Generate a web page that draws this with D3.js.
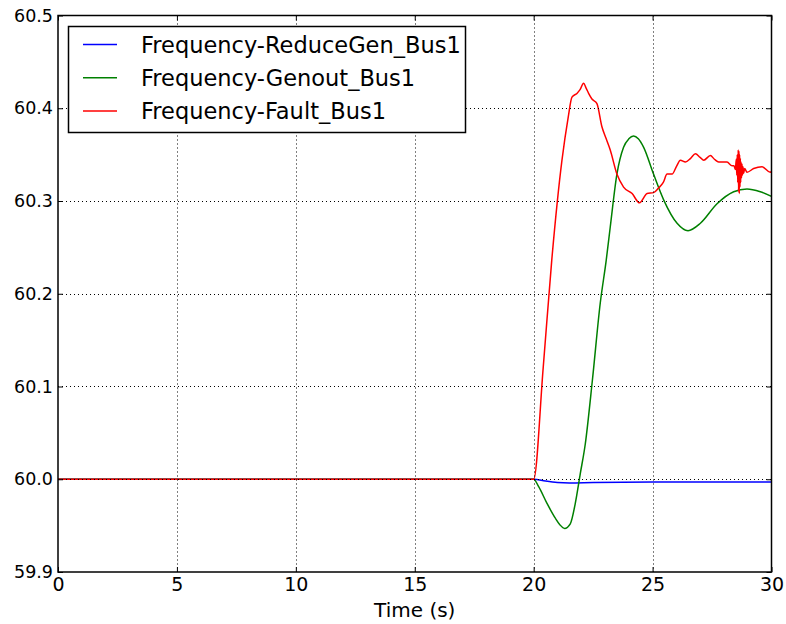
<!DOCTYPE html>
<html>
<head>
<meta charset="utf-8">
<script src="https://cdn.jsdelivr.net/npm/d3@7"></script>
<style>
  body { margin: 0; background: #fff; }
  text { font-family: "DejaVu Sans", sans-serif; fill: #000; }
</style>
</head>
<body>
<div id="chart"></div>
<script>
// series data
var reduceT = [0, 20, 20.5, 21.0, 21.5, 22.5, 25, 30];
var reduceF = [60, 60, 59.998, 59.9965, 59.996, 59.9965, 59.997, 59.997];

var genoutT = [0, 20, 20.21, 20.56, 20.91, 21.1, 21.3, 21.54, 21.75, 21.96, 22.17, 22.47, 22.8, 23.05, 23.22, 23.5, 23.78, 24.0, 24.2, 24.4, 24.62, 25.04, 25.47, 26.03, 26.49, 27.01, 27.71, 28.41, 28.97, 29.53, 30];
var genoutF = [60, 60, 59.992, 59.974, 59.958, 59.951, 59.947, 59.952, 59.974, 60.006, 60.038, 60.107, 60.19, 60.236, 60.272, 60.329, 60.358, 60.367, 60.37, 60.367, 60.358, 60.329, 60.301, 60.276, 60.268, 60.276, 60.297, 60.31, 60.313, 60.31, 60.305];

var faultT = [0, 20, 20.4, 20.76, 21.19, 21.45, 21.61, 21.82, 21.95, 22.1, 22.2, 22.31, 22.45, 22.66, 22.87, 23.05, 23.22, 23.5, 23.78, 24.14, 24.45, 24.77, 25.04, 25.25, 25.45, 25.61, 25.82, 26.0, 26.17, 26.38, 26.6, 26.8, 27.0, 27.15, 27.43, 27.6, 27.78, 28.13, 28.34,
  28.42, 28.48, 28.52, 28.54, 28.56, 28.58, 28.6, 28.615, 28.63, 28.645, 28.66, 28.675, 28.69, 28.705, 28.72, 28.74, 28.76, 28.78, 28.8, 28.83, 28.87,
  28.97, 29.25, 29.6, 29.95, 30];
var faultF = [60, 60, 60.12, 60.236, 60.344, 60.39, 60.412, 60.416, 60.42, 60.427, 60.422, 60.416, 60.41, 60.405, 60.38, 60.367, 60.355, 60.329, 60.315, 60.308, 60.298, 60.308, 60.309, 60.314, 60.32, 60.329, 60.329, 60.337, 60.344, 60.342, 60.346, 60.351, 60.347, 60.344, 60.349, 60.345, 60.342, 60.342, 60.338,
  60.338, 60.334, 60.345, 60.328, 60.35, 60.32, 60.355, 60.31, 60.354, 60.308, 60.35, 60.315, 60.346, 60.32, 60.342, 60.325, 60.34, 60.328, 60.337, 60.33, 60.335,
  60.331, 60.335, 60.337, 60.331, 60.332];

var seriesNames = ["Frequency-ReduceGen_Bus1", "Frequency-Genout_Bus1", "Frequency-Fault_Bus1"];
var seriesColors = ["#0000ff", "#008000", "#ff0000"];
var xTicks = [0, 5, 10, 15, 20, 25, 30];
var yTicks = [59.9, 60.0, 60.1, 60.2, 60.3, 60.4, 60.5];

var width = 786, height = 624;
var plotLeft = 58, plotRight = 771.5, plotTop = 15.5, plotBottom = 572;

var svg = d3.select("#chart")
  .append("svg")
    .attr("width", width)
    .attr("height", height);

var x = d3.scaleLinear().domain([0, 30]).range([plotLeft, plotRight]);
var y = d3.scaleLinear().domain([59.9, 60.5]).range([plotBottom, plotTop]);

var series = [
  { t: reduceT, f: reduceF },
  { t: genoutT, f: genoutF },
  { t: faultT, f: faultF }
];

var line = d3.line()
    .x(function(d) { return x(d[0]); })
    .y(function(d) { return y(d[1]); })
    .curve(d3.curveMonotoneX);

var plot = svg.append("g");

plot.append("clipPath").attr("id", "clip")
  .append("rect")
    .attr("x", plotLeft).attr("y", plotTop)
    .attr("width", plotRight - plotLeft).attr("height", plotBottom - plotTop);

series.forEach(function(s, i) {
	plot.append("path")
	    .datum(d3.zip(s.t, s.f))
	    .attr("clip-path", "url(#clip)")
	    .attr("fill", "none")
	    .attr("stroke", seriesColors[i])
	    .attr("stroke-width", 1.5)
	    .attr("d", line);
});

// grid on top of the lines, dotted
var grid = svg.append("g")
    .attr("stroke", "#000")
    .attr("stroke-width", 1)
    .attr("stroke-dasharray", "1,3");

grid.selectAll(".gx")
  .data(xTicks.slice(1, -1))
  .enter().append("line")
    .attr("x1", function(d) { return Math.round(x(d)) + 0.5; })
    .attr("x2", function(d) { return Math.round(x(d)) + 0.5; })
    .attr("y1", plotTop)
    .attr("y2", plotBottom);

grid.selectAll(".gy")
  .data(yTicks.slice(1, -1))
  .enter().append("line")
    .attr("y1", function(d) { return Math.round(y(d)) + 0.5; })
    .attr("y2", function(d) { return Math.round(y(d)) + 0.5; })
    .attr("x1", plotLeft)
    .attr("x2", plotRight);

// axes with inward ticks
svg.append("g")
    .attr("transform", "translate(0," + plotBottom + ")")
    .call(d3.axisBottom(x).tickValues(xTicks).tickSizeInner(-5).tickSizeOuter(0).tickPadding(6))
    .call(function(g) {
		g.select(".domain").remove();
		g.selectAll("text").attr("font-size", 19).style("font-family", "DejaVu Sans");
    });

svg.append("g")
    .attr("transform", "translate(0," + plotTop + ")")
    .call(d3.axisTop(x).tickValues(xTicks).tickSizeInner(-5).tickSizeOuter(0).tickFormat(""))
    .call(function(g) { g.select(".domain").remove(); });

svg.append("g")
    .attr("transform", "translate(" + plotLeft + ",0)")
    .call(d3.axisLeft(y).tickValues(yTicks).tickSizeInner(-5).tickSizeOuter(0).tickPadding(5).tickFormat(d3.format(".1f")))
    .call(function(g) {
		g.select(".domain").remove();
		g.selectAll("text").attr("font-size", 17.5).style("font-family", "DejaVu Sans");
    });

svg.append("g")
    .attr("transform", "translate(" + plotRight + ",0)")
    .call(d3.axisRight(y).tickValues(yTicks).tickSizeInner(-5).tickSizeOuter(0).tickFormat(""))
    .call(function(g) { g.select(".domain").remove(); });

svg.append("rect")
    .attr("x", plotLeft)
    .attr("y", plotTop)
    .attr("width", plotRight - plotLeft)
    .attr("height", plotBottom - plotTop)
    .attr("fill", "none")
    .attr("stroke", "#000")
    .attr("stroke-width", 1.5);

svg.append("text")
    .attr("x", (plotLeft + plotRight) / 2)
    .attr("y", 617)
    .attr("text-anchor", "middle")
    .attr("font-size", 20)
    .text("Time (s)");

// legend
var legend = svg.append("g");

legend.append("rect")
    .attr("x", 68.5)
    .attr("y", 26.5)
    .attr("width", 397)
    .attr("height", 106)
    .attr("fill", "#fff")
    .attr("stroke", "#000")
    .attr("stroke-width", 1.5);

seriesNames.forEach(function(name, i) {
	var ly = 44.5 + i * 33.3;
	legend.append("line")
	    .attr("x1", 83)
	    .attr("x2", 117)
	    .attr("y1", ly)
	    .attr("y2", ly)
	    .attr("stroke", seriesColors[i])
	    .attr("stroke-width", 1.5);
	legend.append("text")
	    .attr("x", 141)
	    .attr("y", ly + 8)
	    .attr("font-size", 22.5)
	    .text(name);
});
</script>
</body>
</html>
